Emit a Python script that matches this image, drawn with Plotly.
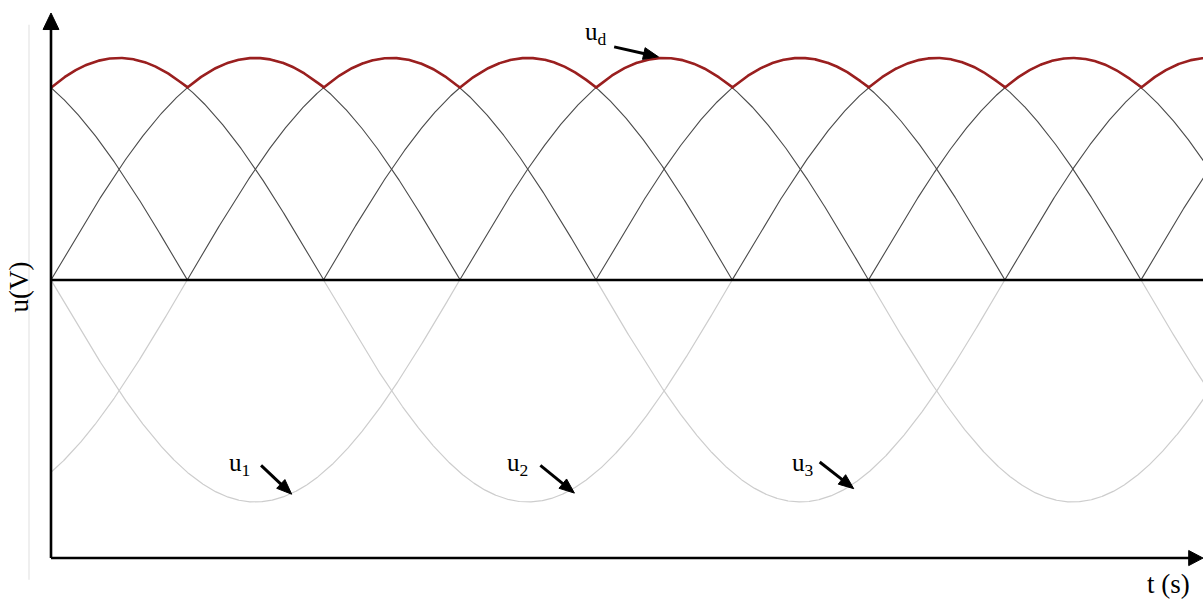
import numpy as np
import plotly.graph_objects as go

# Three-phase supply and six-pulse rectified output
phase_names = ["u<sub>1</sub>", "u<sub>2</sub>", "u<sub>3</sub>"]
phase_shift_deg = [0, 120, 240]          # phase lag of each line voltage
amplitude = 1.0                          # peak value (normalised)
wt_start, wt_end = 180.0, 690.0          # electrical angle window shown (deg)

# label anchors (electrical angle, value) for the phase tags and arrows
phase_label_pos = [(263.0, -0.83), (385.5, -0.83), (511.0, -0.83)]
phase_arrow_tail = [(272.5, -0.835), (395.5, -0.835), (518.5, -0.82)]
phase_arrow_tip = [(286.0, -0.965), (410.5, -0.96), (533.5, -0.94)]
ud_label_pos = (420.0, 1.11)
ud_arrow_tail = (428.0, 1.05)
ud_arrow_tip = (447.5, 1.005)

# axis frame ranges
x_range = [157.54, 687.3]
y_range = [-1.446, 1.261]
x_axis_y = -1.2526
fig_w, fig_h = 1203, 601

# pixels per data unit (used to keep arrow heads undistorted)
kx = fig_w / (x_range[1] - x_range[0])
ky = fig_h / (y_range[1] - y_range[0])

wt = np.linspace(wt_start, wt_end, 3000)
phases = [amplitude * np.sin(np.radians(wt - s)) for s in phase_shift_deg]
rectified = np.max(np.abs(np.vstack(phases)), axis=0)

fig = go.Figure()

# negative half-waves (light)
for u in phases:
    neg = np.where(u <= 0, u, np.nan)
    fig.add_trace(go.Scatter(x=wt, y=neg, mode="lines",
                             line=dict(color="#cdcdcd", width=1.2),
                             hoverinfo="skip", showlegend=False))
# folded half-waves |u| (dark)
for u in phases:
    fig.add_trace(go.Scatter(x=wt, y=np.abs(u), mode="lines",
                             line=dict(color="#4a4a4a", width=1.1),
                             hoverinfo="skip", showlegend=False))
# rectified output envelope
fig.add_trace(go.Scatter(x=wt, y=rectified, mode="lines",
                         line=dict(color="#9a1f1f", width=2.6),
                         hoverinfo="skip", showlegend=False))


def arrow_shapes(tail, tip, head_len=15, head_half=6, width=3):
    """Shaft line plus filled triangular head, sized in screen pixels."""
    dx = (tip[0] - tail[0]) * kx
    dy = (tip[1] - tail[1]) * ky
    n = np.hypot(dx, dy)
    ux, uy = dx / n, dy / n
    px, py = -uy, ux
    bx = tip[0] - ux * head_len / kx
    by = tip[1] - uy * head_len / ky
    l = (bx + px * head_half / kx, by + py * head_half / ky)
    r = (bx - px * head_half / kx, by - py * head_half / ky)
    return [
        dict(type="line", x0=tail[0], y0=tail[1], x1=bx + ux * 2 / kx, y1=by + uy * 2 / ky,
             line=dict(color="black", width=width)),
        dict(type="path", path=f"M {l[0]} {l[1]} L {tip[0]} {tip[1]} L {r[0]} {r[1]} Z",
             fillcolor="black", line=dict(color="black", width=1)),
    ]


shapes = []
# faint guide at far left
shapes.append(dict(type="line", x0=170.3, x1=170.3, y0=1.15, y1=-1.35,
                   line=dict(color="#efefef", width=2), layer="below"))
# y axis
shapes.append(dict(type="line", x0=wt_start, x1=wt_start, y0=x_axis_y, y1=1.135,
                   line=dict(color="black", width=2.6)))
shapes.append(dict(type="path",
                   path=f"M {wt_start-3.5} 1.128 L {wt_start} 1.2025 L {wt_start+3.5} 1.128 Z",
                   fillcolor="black", line=dict(color="black", width=1)))
# zero line
shapes.append(dict(type="line", x0=wt_start, x1=x_range[1], y0=0, y1=0,
                   line=dict(color="black", width=2.4)))
# x axis
shapes.append(dict(type="line", x0=wt_start, x1=681.5, y0=x_axis_y, y1=x_axis_y,
                   line=dict(color="black", width=2.6)))
shapes.append(dict(type="path",
                   path=f"M 681.0 {x_axis_y+0.034} L {x_range[1]} {x_axis_y} L 681.0 {x_axis_y-0.034} Z",
                   fillcolor="black", line=dict(color="black", width=1)))
# pointer arrows
shapes += arrow_shapes(ud_arrow_tail, ud_arrow_tip)
for tail, tip in zip(phase_arrow_tail, phase_arrow_tip):
    shapes += arrow_shapes(tail, tip)

serif = "Liberation Serif, Times New Roman, serif"
lbl_font = dict(family=serif, size=25, color="black")
axis_font = dict(family=serif, size=27, color="black")

annotations = [
    dict(x=165.8, y=-0.03, text="u(V)", textangle=-90, showarrow=False, font=axis_font),
    dict(x=672.3, y=-1.37, text="t (s)", showarrow=False, font=axis_font),
    dict(x=ud_label_pos[0], y=ud_label_pos[1], text="u<sub>d</sub>", showarrow=False, font=lbl_font),
]
for name, pos in zip(phase_names, phase_label_pos):
    annotations.append(dict(x=pos[0], y=pos[1], text=name, showarrow=False, font=lbl_font))

fig.update_layout(
    width=fig_w, height=fig_h,
    margin=dict(l=0, r=0, t=0, b=0),
    paper_bgcolor="white", plot_bgcolor="white",
    xaxis=dict(range=x_range, visible=False, fixedrange=True),
    yaxis=dict(range=y_range, visible=False, fixedrange=True),
    shapes=shapes, annotations=annotations,
)

fig.write_html("out.html")
